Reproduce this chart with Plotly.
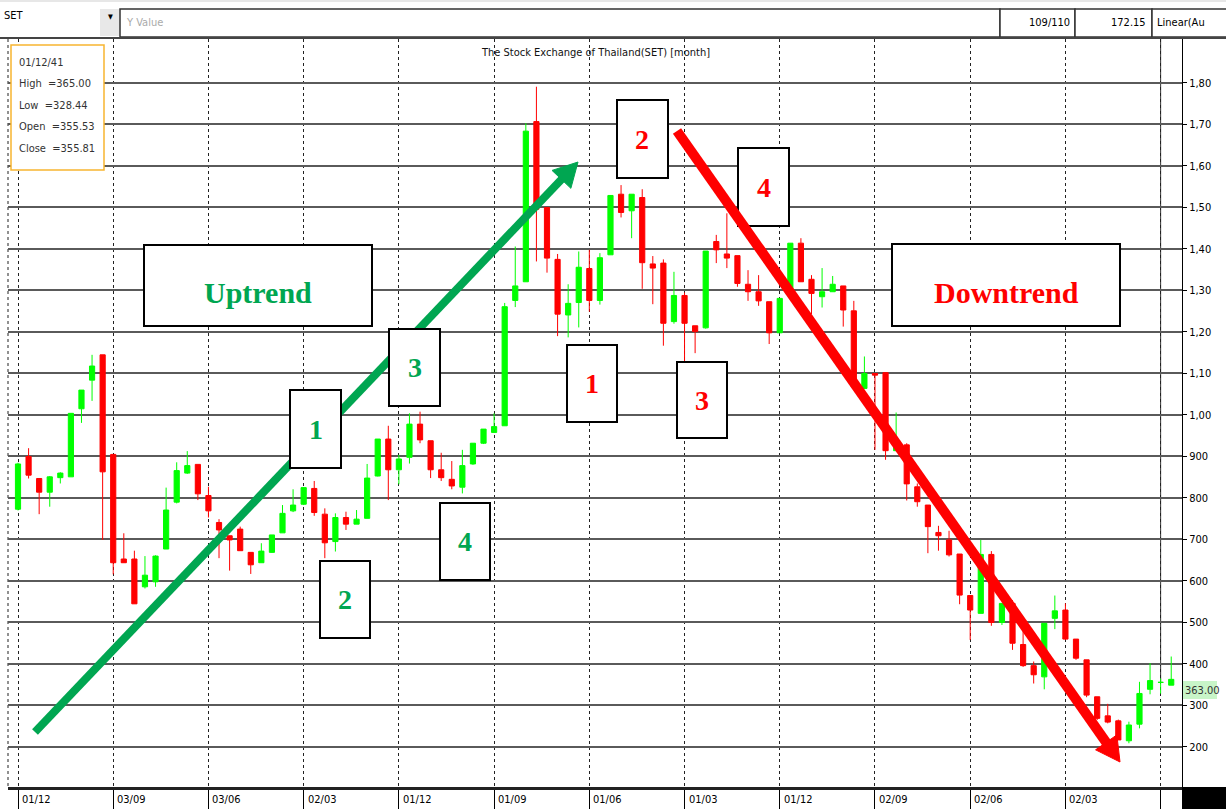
import plotly.graph_objects as go

# ---------------- data ----------------
idx = list(range(110))
opens = [773, 900, 847, 814, 849, 851, 1015, 1084, 1145, 905,
         653, 653, 586, 598, 677, 790, 860, 881, 806, 741,
         709, 725, 669, 644, 669, 716, 769, 785, 823, 761,
         695, 753, 737, 751, 853, 942, 868, 898, 978, 938,
         868, 845, 826, 882, 932, 958, 974, 1276, 1321, 1707,
         1500, 1375, 1241, 1271, 1353, 1276, 1386, 1532, 1492, 1524,
         1364, 1366, 1225, 1288, 1215, 1210, 1418, 1388, 1384, 1315,
         1297, 1273, 1198, 1301, 1414, 1327, 1285, 1297, 1311, 1251,
         1064, 1100, 1102, 914, 928, 827, 783, 717, 699, 665,
         565, 522, 664, 500, 546, 447, 396, 369, 510, 530,
         460, 410, 321, 275, 263, 215, 255, 339, 355.53, 349]
highs = [885, 920, 847, 853, 862, 1004, 1060, 1145, 1145, 905,
         715, 673, 660, 662, 825, 886, 913, 881, 827, 749,
         709, 731, 669, 691, 711, 783, 821, 825, 841, 775,
         763, 767, 771, 882, 942, 974, 904, 1004, 1008, 938,
         909, 889, 916, 932, 966, 1004, 1270, 1406, 1703, 1791,
         1500, 1388, 1315, 1394, 1398, 1390, 1530, 1554, 1532, 1544,
         1383, 1375, 1345, 1295, 1215, 1395, 1434, 1486, 1384, 1349,
         1337, 1273, 1281, 1414, 1426, 1337, 1354, 1335, 1311, 1275,
         1141, 1100, 1102, 1006, 932, 835, 783, 733, 721, 665,
         565, 699, 672, 546, 554, 480, 406, 498, 565, 546,
         460, 410, 321, 304, 266, 261, 357, 402, 365.00, 418]
lows = [770, 847, 761, 779, 835, 851, 981, 1034, 699, 616,
        644, 545, 582, 586, 677, 787, 858, 795, 753, 655,
        625, 673, 617, 644, 668, 716, 766, 783, 757, 655,
        671, 723, 737, 751, 852, 795, 833, 883, 932, 848,
        841, 821, 811, 880, 930, 958, 974, 1260, 1321, 1370,
        1343, 1190, 1187, 1211, 1249, 1266, 1386, 1476, 1426, 1304,
        1267, 1167, 1220, 1108, 1149, 1208, 1366, 1354, 1309, 1275,
        1263, 1171, 1198, 1301, 1321, 1243, 1259, 1297, 1213, 1064,
        1064, 916, 892, 914, 794, 779, 667, 673, 659, 544,
        458, 522, 492, 494, 434, 393, 353, 339, 484, 458,
        410, 320, 265, 257, 217, 209, 245, 327, 328.44, 349]
closes = [882, 855, 814, 851, 860, 1004, 1060, 1118, 863, 644,
          644, 545, 614, 660, 771, 866, 878, 810, 769, 723,
          699, 673, 639, 672, 711, 763, 783, 825, 765, 692,
          753, 737, 749, 848, 942, 868, 894, 978, 940, 868,
          849, 829, 878, 932, 966, 972, 1261, 1311, 1684, 1496,
          1378, 1243, 1269, 1356, 1276, 1379, 1529, 1488, 1532, 1367,
          1354, 1221, 1288, 1221, 1201, 1395, 1398, 1378, 1317, 1297,
          1275, 1198, 1281, 1414, 1321, 1293, 1297, 1315, 1253, 1068,
          1100, 1096, 914, 928, 834, 791, 731, 709, 663, 566,
          530, 664, 500, 546, 450, 396, 374, 498, 528, 460,
          414, 325, 269, 260, 217, 253, 329, 360, 355.81, 363]

x_tick_idx = [0, 9, 18, 27, 36, 45, 54, 63, 72, 81, 90, 99, 108]
x_tick_labels = ["01/12", "03/09", "03/06", "02/03", "01/12", "01/09", "01/06",
                 "01/03", "01/12", "02/09", "02/06", "02/03", ""]
y_tick_vals = [200, 300, 400, 500, 600, 700, 800, 900, 1000, 1100, 1200,
               1300, 1400, 1500, 1600, 1700, 1800]
y_tick_text = ["200", "300", "400", "500", "600", "700", "800", "900", "1,00",
               "1,10", "1,20", "1,30", "1,40", "1,50", "1,60", "1,70", "1,80"]
info_date = "01/12/41"
cursor_i = 108
title_text = "The Stock Exchange of Thailand(SET) [month]"

# ---------------- layout helpers (pixel -> paper) ----------------
W, H = 1226, 809
PL, PR, PT, PB = 8, 1182, 39, 787


def px(x):
    return (x - PL) / (PR - PL)


def py(y):
    return (PB - y) / (PB - PT)


UI_FONT = "Liberation Sans Narrow, DejaVu Sans Condensed, Liberation Sans, Arial"
SERIF = "Liberation Serif, Times New Roman, serif"
GREEN = "#00a651"
RED = "#ff0000"
NB = "\u00a0"

fig = go.Figure()
fig.add_trace(go.Candlestick(
    x=idx, open=opens, high=highs, low=lows, close=closes,
    increasing=dict(line=dict(color="#00ff00", width=1), fillcolor="#00ff00"),
    decreasing=dict(line=dict(color="#ff0000", width=1), fillcolor="#ff0000"),
    whiskerwidth=0, showlegend=False, hoverinfo="skip",
))

shapes = []
ann = []


def rect_px(x0, y0, x1, y1, line="#000", lw=2, fill="white", layer="above"):
    shapes.append(dict(type="rect", xref="paper", yref="paper",
                       x0=px(x0), x1=px(x1), y0=py(y1), y1=py(y0),
                       line=dict(color=line, width=lw), fillcolor=fill, layer=layer))


def line_px(x0, y0, x1, y1, color, width, dash=None, layer="above"):
    d = dict(type="line", xref="paper", yref="paper",
             x0=px(x0), x1=px(x1), y0=py(y0), y1=py(y1),
             line=dict(color=color, width=width), layer=layer)
    if dash:
        d["line"]["dash"] = dash
    shapes.append(d)


def tri_px(pts, color):
    path = "M " + " L ".join(f"{px(a):.5f},{py(b):.5f}" for a, b in pts) + " Z"
    shapes.append(dict(type="path", xref="paper", yref="paper", path=path,
                       fillcolor=color, line=dict(color=color, width=1), layer="above"))


def text_px(x, y, s, size=11, color="#000", family=UI_FONT, anchor="left", bold=False):
    ann.append(dict(xref="paper", yref="paper", x=px(x), y=py(y), text=(f"<b>{s}</b>" if bold else s),
                    showarrow=False, xanchor=anchor, yanchor="middle",
                    font=dict(size=size, color=color, family=family)))


def arrow(tail, tip, color, width, hl, hw):
    (x0, y0), (x1, y1) = tail, tip
    dx, dy = x1 - x0, y1 - y0
    ln = (dx * dx + dy * dy) ** 0.5
    ux, uy = dx / ln, dy / ln
    nx, ny = -uy, ux
    bx, by = x1 - hl * ux, y1 - hl * uy
    line_px(x0, y0, bx + 3 * ux, by + 3 * uy, color, width)
    tri_px([(x1, y1), (bx + hw * nx, by + hw * ny), (bx - hw * nx, by - hw * ny)], color)


# left dashed edge of plot
line_px(PL, PT, PL, PB, "#222", 1, dash="3px,3px", layer="below")

# cursor line on the selected bar
shapes.append(dict(type="line", xref="x", yref="paper", x0=cursor_i, x1=cursor_i,
                   y0=py(683), y1=1, line=dict(color="#333", width=1), layer="below"))

# green arrow (below boxes)
arrow((35, 732), (578, 162), GREEN, 8, 24, 13)

# trend boxes
rect_px(144, 245, 372, 326)
rect_px(892, 244, 1120, 326)
# number boxes
green_boxes = [(290, 390, 341, 468, "1"), (320, 561, 370, 638, "2"),
               (389, 329, 440, 406, "3"), (440, 503, 490, 580, "4")]
red_boxes = [(567, 345, 617, 422, "1"), (617, 100, 668, 178, "2"),
             (677, 362, 727, 438, "3"), (738, 148, 789, 226, "4")]
for b in green_boxes + red_boxes:
    rect_px(b[0], b[1], b[2], b[3])

# red arrow (above box 4)
arrow((677, 131), (1120, 762), RED, 10, 24, 13)

# info box
rect_px(11, 45, 104, 170, line="#f7b531", lw=1.5)

# header
rect_px(-2, -2, 1228, 38, line="white", lw=0)
line_px(0, 1, 1226, 1, "#cfcfcf", 1)
rect_px(100, 9, 120, 36, line="#e4e4e4", lw=0, fill="#e8e8e8")
rect_px(120, 9, 1000, 37, line="#333", lw=1.5)
rect_px(1000, 9, 1075, 37, line="#333", lw=1.5)
rect_px(1075, 9, 1152, 37, line="#333", lw=1.5)
rect_px(1152, 9, 1228, 37, line="#333", lw=1.5)
line_px(0, 38, 1226, 38, "#444", 2)

# bottom right black box
rect_px(1182, 787, 1228, 811, line="#000", lw=0, fill="#000")

# price label for last close
rect_px(1183, 681, 1217, 699, line="#c8f5c8", lw=0, fill="#c8f5c8")

# texts
text_px(258, 292, "Uptrend", size=30, color=GREEN, family=SERIF, anchor="center", bold=True)
text_px(1006, 292, "Downtrend", size=30, color=RED, family=SERIF, anchor="center", bold=True)
for b in green_boxes:
    text_px((b[0] + b[2]) / 2, (b[1] + b[3]) / 2, b[4], size=28, color=GREEN, family=SERIF, anchor="center", bold=True)
for b in red_boxes:
    text_px((b[0] + b[2]) / 2, (b[1] + b[3]) / 2, b[4], size=28, color=RED, family=SERIF, anchor="center", bold=True)

ci = cursor_i
info_lines = [info_date,
              f"High{NB}{NB}={highs[ci]:.2f}",
              f"Low{NB}{NB}={lows[ci]:.2f}",
              f"Open{NB}{NB}={opens[ci]:.2f}",
              f"Close{NB}{NB}={closes[ci]:.2f}"]
for k, s in enumerate(info_lines):
    text_px(17, 62 + k * 21.5, s, size=11, color="#333")

text_px(595, 53, title_text, size=11, color="#111", anchor="center")

text_px(2, 16, "SET", size=11, color="#000")
text_px(110, 17, "▼", size=7, color="#000", anchor="center")
text_px(124, 23, "Y Value", size=11, color="#aaaaaa")
text_px(1072, 22, "109/110", size=11, color="#000", anchor="right")
text_px(1148, 22, "172.15", size=11, color="#000", anchor="right")
text_px(1155, 22, "Linear(Au", size=11, color="#000")

text_px(1183, 690, f"{closes[-1]:.2f}", size=11, color="#333")

# x tick labels (left aligned after each separator)
for v, s in zip(x_tick_idx, x_tick_labels):
    ann.append(dict(xref="x", yref="paper", x=v, y=py(799), text=s, showarrow=False,
                    xanchor="left", yanchor="middle", xshift=2,
                    font=dict(size=11, color="#000", family=UI_FONT)))

fig.update_layout(
    width=W, height=H, autosize=False,
    margin=dict(l=PL, r=W - PR, t=PT, b=H - PB, pad=0, autoexpand=False),
    paper_bgcolor="white", plot_bgcolor="white",
    shapes=shapes, annotations=ann,
    showlegend=False, hovermode=False,
    font=dict(family=UI_FONT, size=11, color="#000"),
    xaxis=dict(range=[(PL - 18) / 10.58, (PR - 18) / 10.58], rangeslider=dict(visible=False),
               tickvals=x_tick_idx, showticklabels=False, ticks="outside", ticklen=21,
               tickcolor="#000", tickwidth=1, automargin=False,
               showgrid=True, gridcolor="#222", gridwidth=1, griddash="3px,3px",
               zeroline=False, showline=True, linecolor="#222", linewidth=3, fixedrange=True),
    yaxis=dict(range=[103.6, 1906], side="right", tickvals=y_tick_vals, ticktext=y_tick_text,
               ticks="outside", ticklen=4, tickcolor="#000", showline=True, linecolor="#000",
               linewidth=1, showgrid=True, gridcolor="#5a5a5a", gridwidth=2, zeroline=False,
               automargin=False,
               tickfont=dict(size=11, family=UI_FONT, color="#000"), fixedrange=True),
)

fig.write_html("out.html", config={"displayModeBar": False},
               post_script="document.body.style.margin='0';")
